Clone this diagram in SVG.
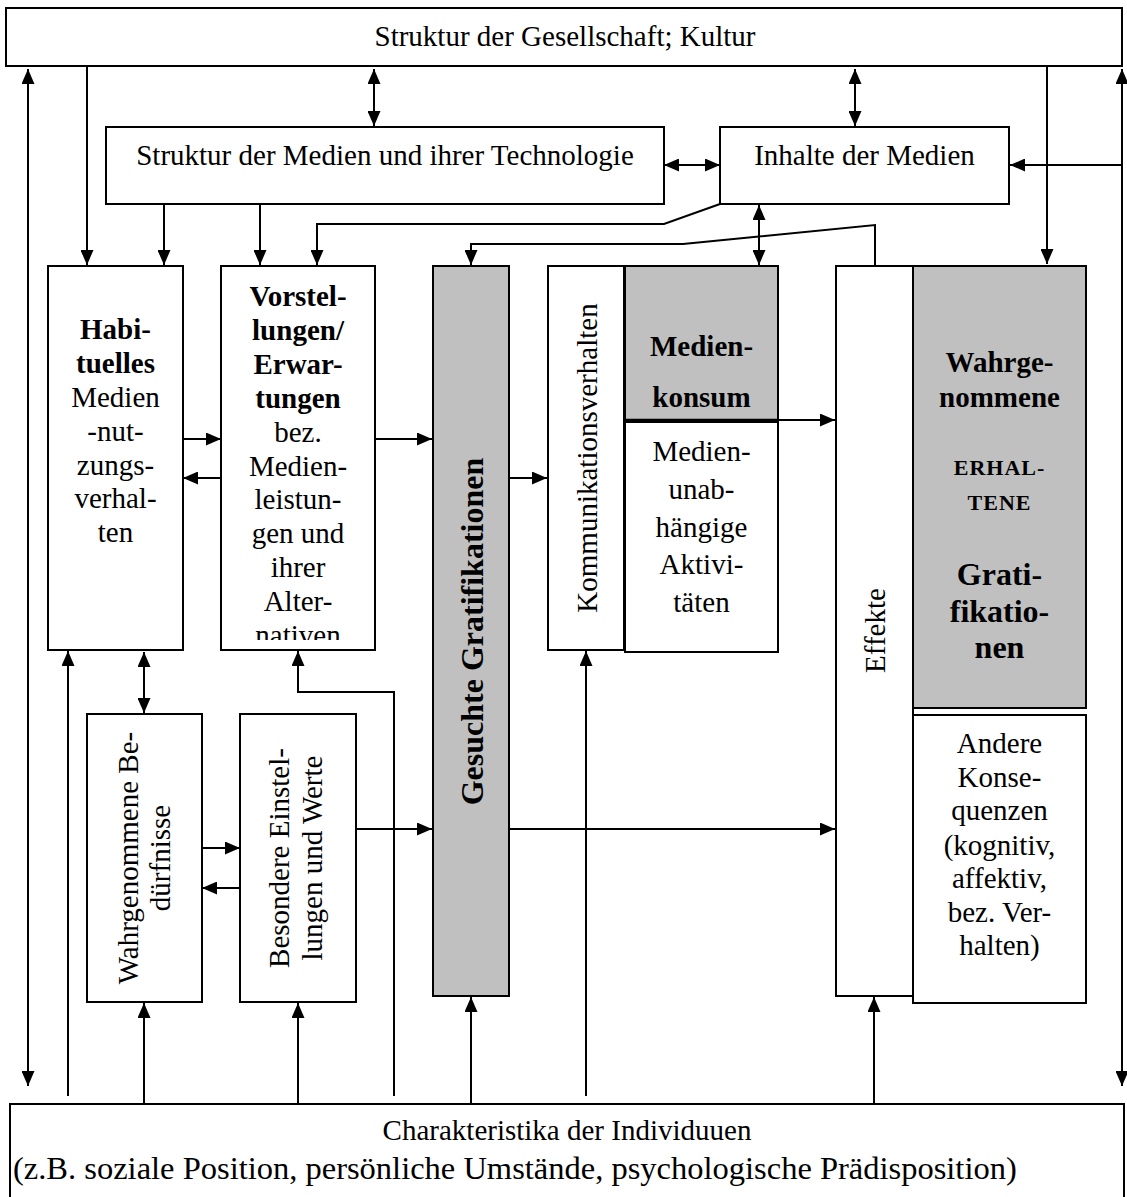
<svg xmlns="http://www.w3.org/2000/svg" width="1127" height="1197" viewBox="0 0 1127 1197">
<style>
.box{fill:#fff;stroke:#000;stroke-width:2}
.gray{fill:#c0c0c0;stroke:#000;stroke-width:2}
.t{font-family:"Liberation Serif","Times New Roman",serif;font-size:29px;fill:#000;text-anchor:middle}
.b{font-weight:bold}
.c{fill:none;stroke:#000;stroke-width:2}
.a{marker-end:url(#ah)}
.d{marker-start:url(#ah);marker-end:url(#ah)}
</style>
<defs>
<marker id="ah" viewBox="0 0 15 13" markerWidth="15" markerHeight="13" refX="15" refY="6.5" orient="auto-start-reverse" markerUnits="userSpaceOnUse"><path d="M0,0 L15,6.5 L0,13 z" fill="#000"/></marker>
<clipPath id="vclip"><rect x="222" y="267" width="152" height="373"/></clipPath>
</defs>
<rect width="1127" height="1197" fill="#fff"/>

<g id="gesellschaft">
<rect class="box" x="6" y="8" width="1116" height="58"/>
<text class="t" x="565" y="46">Struktur der Gesellschaft; Kultur</text>
</g>
<g id="medienstruktur">
<rect class="box" x="106" y="127" width="558" height="77"/>
<text class="t" x="385" y="165">Struktur der Medien und ihrer Technologie</text>
</g>
<g id="inhalte">
<rect class="box" x="720" y="127" width="289" height="77"/>
<text class="t" x="864.5" y="165">Inhalte der Medien</text>
</g>
<g id="habituelles">
<rect class="box" x="48" y="266" width="135" height="384"/>
<text class="t" x="115.5"><tspan class="b" x="115.5" y="339">Habi-</tspan><tspan class="b" x="115.5" y="373">tuelles</tspan><tspan x="115.5" y="407">Medien</tspan><tspan x="115.5" y="441">-nut-</tspan><tspan x="115.5" y="475">zungs-</tspan><tspan x="115.5" y="508">verhal-</tspan><tspan x="115.5" y="542">ten</tspan></text>
</g>
<g id="vorstellungen">
<rect class="box" x="221" y="266" width="154" height="384"/>
<text class="t" clip-path="url(#vclip)"><tspan class="b" x="298" y="306">Vorstel-</tspan><tspan class="b" x="298" y="340">lungen/</tspan><tspan class="b" x="298" y="374">Erwar-</tspan><tspan class="b" x="298" y="408">tungen</tspan><tspan x="298" y="442">bez.</tspan><tspan x="298" y="476">Medien-</tspan><tspan x="298" y="509">leistun-</tspan><tspan x="298" y="543">gen und</tspan><tspan x="298" y="577">ihrer</tspan><tspan x="298" y="611">Alter-</tspan><tspan x="298" y="645">nativen</tspan></text>
</g>
<g id="gesucht">
<rect class="gray" x="433" y="266" width="76" height="730"/>
<text class="t b" style="font-size:32px" transform="translate(483,631.5) rotate(-90)">Gesuchte Gratifikationen</text>
</g>
<g id="kommunikation">
<rect class="box" x="548" y="266" width="76" height="384"/>
<text class="t" transform="translate(597,458) rotate(-90)">Kommunikationsverhalten</text>
</g>
<g id="medienkonsum">
<rect class="gray" x="625" y="266" width="153" height="154"/>
<line x1="625" y1="420.5" x2="778" y2="420.5" stroke="#000" stroke-width="3.5"/>
<text class="t b"><tspan x="701.5" y="356">Medien-</tspan><tspan x="701.5" y="407">konsum</tspan></text>
</g>
<g id="medienunabhaengig">
<rect class="box" x="625" y="422" width="153" height="230"/>
<text class="t"><tspan x="701.5" y="461">Medien-</tspan><tspan x="701.5" y="499">unab-</tspan><tspan x="701.5" y="537">hängige</tspan><tspan x="701.5" y="574">Aktivi-</tspan><tspan x="701.5" y="612">täten</tspan></text>
</g>
<g id="effekte">
<rect class="box" x="836" y="266" width="77" height="730"/>
<text class="t" transform="translate(885,630.5) rotate(-90)">Effekte</text>
</g>
<g id="erhaltene">
<rect class="gray" x="913" y="266" width="173" height="442"/>
<text class="t b"><tspan x="999.5" y="372">Wahrge-</tspan><tspan x="999.5" y="407">nommene</tspan><tspan x="999.5" y="475" style="font-size:22px;letter-spacing:1px">ERHAL-</tspan><tspan x="999.5" y="510" style="font-size:22px;letter-spacing:1px">TENE</tspan><tspan x="999.5" y="585" style="font-size:32px">Grati-</tspan><tspan x="999.5" y="622" style="font-size:32px">fikatio-</tspan><tspan x="999.5" y="658" style="font-size:32px">nen</tspan></text>
</g>
<g id="andere">
<rect class="box" x="913" y="715" width="173" height="288"/>
<text class="t"><tspan x="999.5" y="753">Andere</tspan><tspan x="999.5" y="787">Konse-</tspan><tspan x="999.5" y="820">quenzen</tspan><tspan x="999.5" y="855">(kognitiv,</tspan><tspan x="999.5" y="888">affektiv,</tspan><tspan x="999.5" y="922">bez. Ver-</tspan><tspan x="999.5" y="955">halten)</tspan></text>
</g>
<g id="beduerfnisse">
<rect class="box" x="87" y="714" width="115" height="288"/>
<text class="t" transform="translate(138,858) rotate(-90)"><tspan x="0" y="0">Wahrgenommene Be-</tspan><tspan x="0" y="32">dürfnisse</tspan></text>
</g>
<g id="einstellungen">
<rect class="box" x="240" y="714" width="116" height="288"/>
<text class="t" transform="translate(289,858) rotate(-90)"><tspan x="0" y="0">Besondere Einstel-</tspan><tspan x="0" y="33">lungen und Werte</tspan></text>
</g>
<g id="individuen">
<rect class="box" x="10" y="1104" width="1114" height="110"/>
<text class="t" x="567" y="1140">Charakteristika der Individuuen</text>
<text class="t" x="13" y="1179" style="text-anchor:start;font-size:32.5px">(z.B. soziale Position, persönliche Umstände, psychologische Prädisposition)</text>
</g>

<g id="connectors">
<path class="c d" d="M28,1086 L28,69"/>
<path class="c a" d="M87,67 L87,265"/>
<path class="c d" d="M374,69 L374,126"/>
<path class="c d" d="M855,69 L855,126"/>
<path class="c a" d="M1047,67 L1047,264"/>
<path class="c d" d="M1122,1086 L1122,69"/>
<path class="c a" d="M1122,165 L1010,165"/>
<path class="c d" d="M664,165 L720,165"/>
<path class="c a" d="M164,204 L164,265"/>
<path class="c a" d="M260,204 L260,265"/>
<path class="c a" d="M720,204 L664,224 L317,224 L317,265"/>
<path class="c a" d="M875,266 L875,225 L683,244 L471,244 L471,265"/>
<path class="c d" d="M759,205 L759,265"/>
<path class="c a" d="M183,439 L221,439"/>
<path class="c a" d="M221,478 L183,478"/>
<path class="c a" d="M375,439 L432,439"/>
<path class="c a" d="M509,478 L547,478"/>
<path class="c a" d="M778,420 L835,420"/>
<path class="c a" d="M68,1096 L68,651"/>
<path class="c d" d="M144,652 L144,713"/>
<path class="c a" d="M394,1096 L394,692 L298,692 L298,651"/>
<path class="c a" d="M202,848 L240,848"/>
<path class="c a" d="M240,888 L202,888"/>
<path class="c a" d="M356,829 L432,829"/>
<path class="c a" d="M510,829 L835,829"/>
<path class="c a" d="M586,1096 L586,651"/>
<path class="c a" d="M144,1104 L144,1003"/>
<path class="c a" d="M298,1104 L298,1003"/>
<path class="c a" d="M471,1104 L471,997"/>
<path class="c a" d="M874,1104 L874,997"/>
</g>
</svg>
